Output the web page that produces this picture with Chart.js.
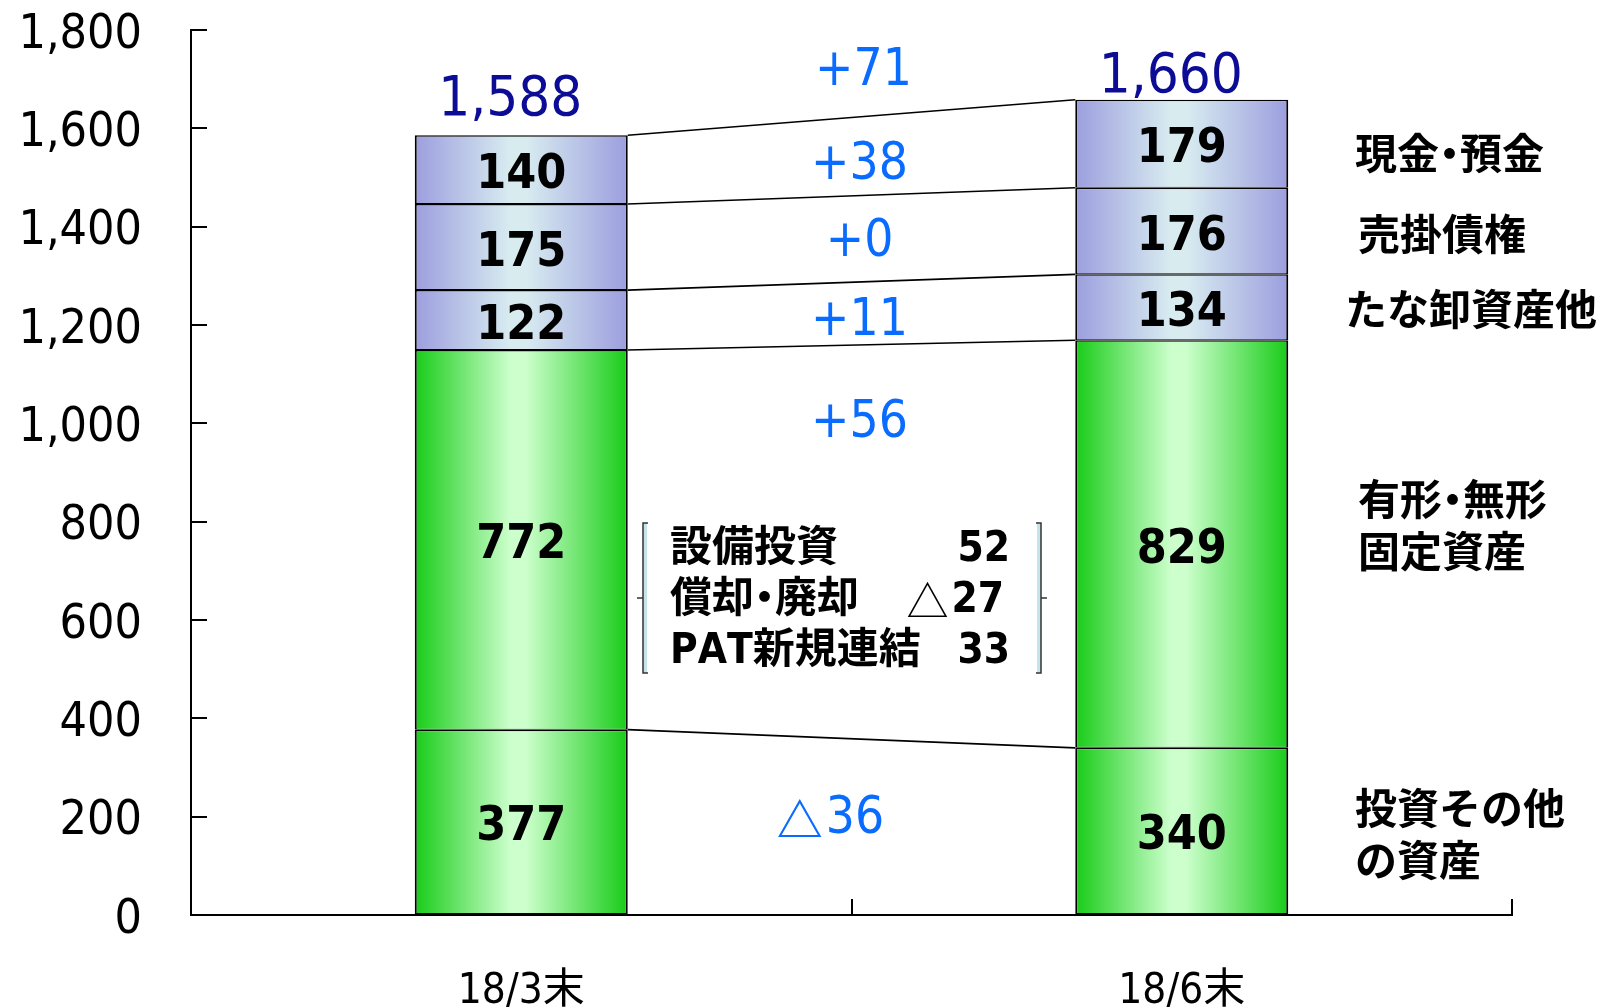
<!DOCTYPE html>
<html>
<head>
<meta charset="utf-8">
<script src="https://cdn.jsdelivr.net/npm/chart.js@4.4.1/dist/chart.umd.min.js"></script>
<style>
html,body{margin:0;padding:0;background:#fff}
#wrap{width:1604px;height:1008px;position:relative}
</style>
</head>
<body>
<div id="wrap"><canvas id="bs"></canvas></div>
<script>
// data
const periods = ['18/3末', '18/6末'];
const investOther = [377, 340];
const fixedAssets = [772, 829];
const inventories = [122, 134];
const receivables = [175, 176];
const cash = [140, 179];
const totals = [1588, 1660];
// change between periods, same order as the stack (bottom -> top)
const changes = [-36, 56, 11, 0, 38];
const totalChange = 71;
const seriesNames = [['投資その他', 'の資産'], ['有形・無形', '固定資産'], ['たな卸資産他'], ['売掛債権'], ['現金・預金']];
// breakdown of fixed asset change
const fixedItems = ['設備投資', '償却・廃却', 'PAT新規連結'];
const fixedValues = [52, -27, 33];
const yMin = 0, yMax = 1800, yStep = 200;

const LATIN = "'DejaVu Sans Condensed', 'Noto Sans CJK JP', sans-serif";
const CJK = "'Noto Sans CJK JP', sans-serif";
const BAR_PCT = 0.3225;

// left aligned text, with a narrow middle dot like the original font
function jaText(ctx, text, x, y, size){
  let cx = x;
  for (const ch of text){
    if (ch === '・'){
      const w = size * 0.5;
      const full = ctx.measureText(ch).width;
      ctx.fillText(ch, cx + w/2 - full/2, y);
      cx += w;
    } else {
      ctx.fillText(ch, cx, y);
      cx += ctx.measureText(ch).width;
    }
  }
}

// number with "+" or a "△" for negatives; align: 'center' or 'right'
function signedText(ctx, v, x, y, align, numFont, triFont, plus){
  const num = (v < 0 ? '' : (plus ? '+' : '')) + Math.abs(v);
  ctx.font = numFont;
  const wn = ctx.measureText(num).width;
  let wt = 0, gap = 0;
  if (v < 0){ ctx.font = triFont; wt = ctx.measureText('△').width; gap = 3 }
  const w = wt + gap + wn;
  let left = align === 'center' ? x - w/2 : x - w;
  ctx.textAlign = 'left';
  if (v < 0){ ctx.font = triFont; ctx.fillText('△', left, y) }
  ctx.font = numFont;
  ctx.fillText(num, left + wt + gap, y);
}

function gradFill(edge, mid){
  return function(c){
    const chart = c.chart;
    const xs = chart.scales && chart.scales.x;
    if (!chart.chartArea || !xs || c.dataIndex === undefined) return edge;
    const cx = xs.getPixelForValue(c.dataIndex);
    const half = xs.width / periods.length * BAR_PCT / 2;
    const g = chart.ctx.createLinearGradient(cx - half, 0, cx + half, 0);
    g.addColorStop(0, edge);
    g.addColorStop(0.45, mid);
    g.addColorStop(0.52, mid);
    g.addColorStop(1, edge);
    return g;
  }
}
const green = gradFill('rgb(24,204,24)', 'rgb(204,255,204)');
const purple = gradFill('rgb(156,158,222)', 'rgb(216,236,240)');

// connector lines, labels and notes
const notes = {
  id: 'notes',
  afterDatasetsDraw(chart){
    const ctx = chart.ctx;
    const n = chart.data.datasets.length;
    ctx.save();
    // lines between the tops of matching segments
    ctx.strokeStyle = '#000';
    ctx.lineWidth = 1.6;
    for (let i = 0; i < n; i++){
      const a = chart.getDatasetMeta(i).data[0], b = chart.getDatasetMeta(i).data[1];
      ctx.beginPath();
      ctx.moveTo(a.x + a.width/2, a.y);
      ctx.lineTo(b.x - b.width/2, b.y);
      ctx.stroke();
    }
    // segment values
    ctx.fillStyle = '#000';
    ctx.font = 'bold 48px ' + LATIN;
    ctx.textAlign = 'center';
    ctx.textBaseline = 'middle';
    for (let i = 0; i < n; i++){
      chart.getDatasetMeta(i).data.forEach((bar, j) => {
        ctx.fillText(String(chart.data.datasets[i].data[j]), bar.x, (bar.y + bar.base)/2 + 6);
      });
    }
    // totals
    ctx.fillStyle = 'rgb(12,12,150)';
    ctx.font = '56px ' + LATIN;
    ctx.textBaseline = 'alphabetic';
    const topMeta = chart.getDatasetMeta(n - 1).data;
    const lift = [20, 8];
    topMeta.forEach((bar, j) => {
      ctx.fillText(totals[j].toLocaleString('en-US'), bar.x - 11, bar.y - lift[j]);
    });
    // changes
    ctx.fillStyle = 'rgb(10,108,255)';
    ctx.textBaseline = 'middle';
    const midX = (chart.scales.x.getPixelForValue(0) + chart.scales.x.getPixelForValue(1)) / 2;
    const changeY = [820, 424, 322, 243, 166];
    changes.forEach((v, i) => {
      signedText(ctx, v, midX + (v < 0 ? -21 : 8), changeY[i], 'center', '51px ' + LATIN, 'bold 46px ' + CJK, true);
    });
    signedText(ctx, totalChange, midX + 12, 72, 'center', '51px ' + LATIN, 'bold 46px ' + CJK, true);
    // series names at the right
    ctx.fillStyle = '#000';
    ctx.font = 'bold 42px ' + CJK;
    ctx.textAlign = 'left';
    const nameX = [1355, 1358, 1345, 1358, 1355];
    const nameY = [808, 499, 309, 234, 153];
    seriesNames.forEach((lines, i) => {
      lines.forEach((t, k) => jaText(ctx, t, nameX[i], nameY[i] + k * 52, 42));
    });
    // breakdown box
    fixedItems.forEach((t, k) => {
      const y = 550 + k * 51;
      ctx.font = 'bold 42px ' + LATIN;
      ctx.textAlign = 'left';
      jaText(ctx, t, 670, y, 42);
      signedText(ctx, fixedValues[k], fixedValues[k] < 0 ? 1004 : 1010, y, 'right', 'bold 42px ' + LATIN, '42px ' + CJK, false);
    });
    // brackets
    const bracket = (x, dir) => {
      ctx.fillStyle = 'rgb(196,228,234)';
      ctx.fillRect(dir > 0 ? x : x - 4, 523, 4, 150);
      ctx.strokeStyle = '#333';
      ctx.lineWidth = 1.5;
      ctx.beginPath();
      ctx.moveTo(x + 5*dir, 523); ctx.lineTo(x, 523); ctx.lineTo(x, 673); ctx.lineTo(x + 5*dir, 673);
      ctx.moveTo(x, 598); ctx.lineTo(x - 6*dir, 598);
      ctx.stroke();
    };
    bracket(643, 1);
    bracket(1041, -1);
    ctx.restore();
  }
};

const mk = (label, data, bg) => ({
  label: label.join(''), data, backgroundColor: bg,
  borderColor: '#000', borderWidth: {top: 1.5, bottom: 1, left: 2, right: 2}, borderSkipped: false,
  barPercentage: BAR_PCT, categoryPercentage: 1
});

new Chart(document.getElementById('bs'), {
  type: 'bar',
  data: {
    labels: periods,
    datasets: [
      mk(seriesNames[0], investOther, green),
      mk(seriesNames[1], fixedAssets, green),
      mk(seriesNames[2], inventories, purple),
      mk(seriesNames[3], receivables, purple),
      mk(seriesNames[4], cash, purple)
    ]
  },
  options: {
    responsive: true,
    maintainAspectRatio: false,
    animation: false,
    layout: {padding: {left: 0, right: 92, top: 30, bottom: 0}},
    plugins: {legend: {display: false}, tooltip: {enabled: false}},
    scales: {
      x: {
        stacked: true,
        grid: {display: true, drawOnChartArea: false, drawTicks: true, tickLength: -16, color: '#000', lineWidth: 2},
        border: {display: true, color: '#000', width: 2},
        ticks: {color: '#000', padding: 68, font: {family: LATIN, size: 42}},
        afterFit(s){ s.height = 93; s.paddingLeft = 0; s.paddingRight = 0 }
      },
      y: {
        stacked: true,
        min: yMin, max: yMax,
        grid: {display: true, drawOnChartArea: false, drawTicks: true, tickLength: -16, color: '#000', lineWidth: 2},
        border: {display: true, color: '#000', width: 2},
        // empty first line nudges the label a few pixels down, as in the original
        ticks: {stepSize: yStep, color: '#000', padding: 65, font: {family: LATIN, size: 48, lineHeight: 0.22},
          callback: v => ['', v.toLocaleString('en-US')]},
        afterFit(s){ s.width = 191; s.paddingTop = 0; s.paddingBottom = 0 }
      }
    }
  },
  plugins: [notes]
});
</script>
</body>
</html>
